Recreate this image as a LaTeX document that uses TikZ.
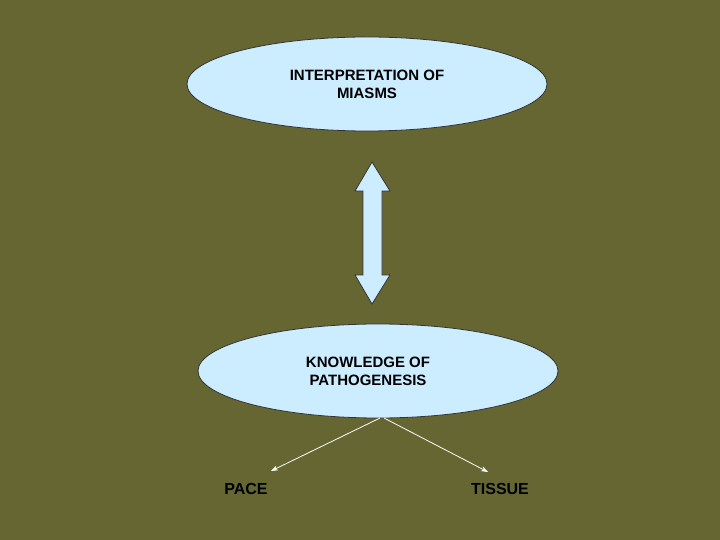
\documentclass[tikz,border=0pt]{standalone}
\usepackage{fontspec}
\setmainfont{Liberation Sans}
\usetikzlibrary{shapes.geometric,arrows.meta}
\definecolor{olive}{HTML}{666633}
\definecolor{lblue}{HTML}{CCECFF}
\definecolor{edge}{HTML}{333333}
\begin{document}
\begin{tikzpicture}[x=1pt,y=-1pt,
  oval/.style={ellipse,draw=edge,line width=0.8pt,fill=lblue,minimum width=360pt,minimum height=94pt,inner sep=0pt,font=\bfseries\fontsize{15}{18}\selectfont,align=center},
  lbl/.style={font=\bfseries\fontsize{16}{19}\selectfont},
  link/.style={white,line width=0.8pt,-{Stealth[length=7pt,width=5pt]}}]
\fill[olive] (0,0) rectangle (720,540);
\useasboundingbox (0,0) rectangle (720,540);
\node[oval] (top) at (367,84) {INTERPRETATION OF\\MIASMS};
\node[oval] (bot) at (378,371) {\hspace*{-20pt}KNOWLEDGE OF\\\hspace*{-20pt}PATHOGENESIS};
\draw[draw=edge,fill=lblue,line width=0.8pt] (372,162) -- (390,191) -- (382,191) -- (382,275) -- (390,275) -- (372,304) -- (355,275) -- (363,275) -- (363,191) -- (355,191) -- cycle;
\node[lbl] (pace) at (246,489) {PACE};
\node[lbl] (tissue) at (500,489) {TISSUE};
\coordinate (s1) at (380,418);
\coordinate (s2) at (384,418);
\coordinate (e1) at (271,471);
\coordinate (e2) at (488,472);
\draw[link] (s1) -- (e1);
\draw[link] (s2) -- (e2);
\end{tikzpicture}
\end{document}
